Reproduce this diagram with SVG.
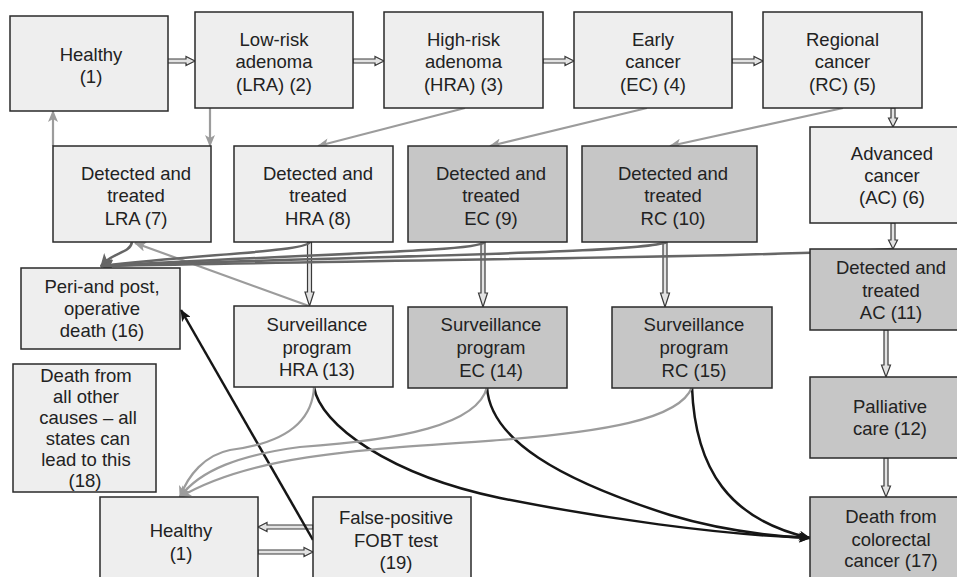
<svg xmlns="http://www.w3.org/2000/svg" width="957" height="577" viewBox="0 0 957 577">
<style>
.box{stroke:#2a2a2a;stroke-width:1.5}
.lt{fill:#eeeeee}
.dk{fill:#c6c6c6}
text{font-family:"Liberation Sans",Arial,sans-serif;font-size:18.5px;fill:#222;text-anchor:middle}
.hollow{fill:#e2e2e2;stroke:#3a3a3a;stroke-width:1.2;stroke-linejoin:miter}
.g{fill:none;stroke:#9c9c9c;stroke-width:2.2}
.d{fill:none;stroke:#666;stroke-width:2.5}
.b{fill:none;stroke:#161616;stroke-width:2.5}
</style>
<defs>
<marker id="mg" viewBox="0 0 12 10" refX="11" refY="5" markerWidth="13" markerHeight="10" markerUnits="userSpaceOnUse" orient="auto"><path d="M0,0 L12,5 L0,10 L3,5 z" fill="#9c9c9c"/></marker>
<marker id="md" viewBox="0 0 12 10" refX="11" refY="5" markerWidth="14" markerHeight="11" markerUnits="userSpaceOnUse" orient="auto"><path d="M0,0 L12,5 L0,10 L3,5 z" fill="#666"/></marker>
<marker id="mb" viewBox="0 0 12 10" refX="11" refY="5" markerWidth="14" markerHeight="10" markerUnits="userSpaceOnUse" orient="auto"><path d="M0,0 L12,5 L0,10 L3,5 z" fill="#161616"/></marker>
</defs>

<g id="connectors">
<!-- hollow progression arrows -->
<path class="hollow" d="M165,59 H186 V56.5 L195,61 L186,65.5 V63 H165 Z"/>
<path class="hollow" d="M353,59 H375 V56.5 L384,61 L375,65.5 V63 H353 Z"/>
<path class="hollow" d="M543,59 H565 V56.5 L574,61 L565,65.5 V63 H543 Z"/>
<path class="hollow" d="M732,59 H754 V56.5 L763,61 L754,65.5 V63 H732 Z"/>
<path class="hollow" d="M891,108 V118 H888.5 L893,127 L897.5,118 H895 V108 Z"/>
<path class="hollow" d="M891,223 V240 H888.5 L893,249 L897.5,240 H895 V223 Z"/>
<path class="hollow" d="M884,330 V365 H881.5 L886,377 L890.5,365 H888 V330 Z"/>
<path class="hollow" d="M884,458 V486 H881.5 L886,497 L890.5,486 H888 V458 Z"/>
<path class="hollow" d="M307.5,242 V292 H305 L309.5,306 L314,292 H311.5 V242 Z"/>
<path class="hollow" d="M481,242 V293 H478.5 L483,307 L487.5,293 H485 V242 Z"/>
<path class="hollow" d="M663,242 V293 H660.5 L665,307 L669.5,293 H667 V242 Z"/>
<path class="hollow" d="M313,525 H267 V522.5 L258,527 L267,531.5 V529 H313 Z"/>
<path class="hollow" d="M258,550 H304 V547.5 L313,552 L304,556.5 V554 H258 Z"/>

<!-- gray detection arrows -->
<path class="g" marker-end="url(#mg)" d="M210,108 V146"/>
<path class="g" marker-end="url(#mg)" d="M53,146 V111"/>
<path class="g" marker-end="url(#mg)" d="M465,108 L318,146"/>
<path class="g" marker-end="url(#mg)" d="M647,108 L490,146"/>
<path class="g" marker-end="url(#mg)" d="M843,108 L670,146"/>
<path class="g" marker-end="url(#mg)" d="M309,306 L135,243"/>

<!-- dark gray to peri-operative death -->
<path class="d" marker-end="url(#md)" d="M132,242 C130,254 112,252 101,266"/>
<path class="d" marker-end="url(#md)" d="M310,242 C305,252 200,254 101,266"/>
<path class="d" marker-end="url(#md)" d="M485,242 C478,252 300,254 101,266"/>
<path class="d" marker-end="url(#md)" d="M667,242 C640,253 400,255 101,266"/>
<path class="d" marker-end="url(#md)" d="M892,249 C780,256 600,257 101,266"/>

<!-- black arrows -->
<path class="b" marker-end="url(#mb)" d="M313,540 L181,310"/>
<path class="b" marker-end="url(#mb)" d="M314,387 C320,425 390,475 500,498 C600,518 720,535 810,538"/>
<path class="b" marker-end="url(#mb)" d="M487,387 C490,440 560,480 670,515 C720,530 770,536 810,538"/>
<path class="b" marker-end="url(#mb)" d="M692,387 C695,470 730,520 810,538"/>

<!-- gray back to healthy -->
<path class="g" marker-end="url(#mg)" d="M314,387 C312,430 270,445 230,450 C205,455 188,475 180,497"/>
<path class="g" marker-end="url(#mg)" d="M487,387 C478,425 400,440 300,447 C240,455 200,470 180,497"/>
<path class="g" marker-end="url(#mg)" d="M692,387 C680,420 600,432 500,440 C350,450 250,456 180,497"/>
</g>

<g id="n1"><rect class="box lt" x="10" y="16" width="158" height="95"/><text x="91" y="61">Healthy</text><text x="91" y="83">(1)</text></g>
<g id="n2"><rect class="box lt" x="195" y="12" width="158" height="96"/><text x="274" y="46">Low-risk</text><text x="274" y="68">adenoma</text><text x="274" y="91">(LRA) (2)</text></g>
<g id="n3"><rect class="box lt" x="384" y="12" width="159" height="96"/><text x="463.5" y="46">High-risk</text><text x="463.5" y="68">adenoma</text><text x="463.5" y="91">(HRA) (3)</text></g>
<g id="n4"><rect class="box lt" x="574" y="12" width="158" height="96"/><text x="653" y="46">Early</text><text x="653" y="68">cancer</text><text x="653" y="91">(EC) (4)</text></g>
<g id="n5"><rect class="box lt" x="763" y="12" width="159" height="96"/><text x="842.5" y="46">Regional</text><text x="842.5" y="68">cancer</text><text x="842.5" y="91">(RC) (5)</text></g>
<g id="n6"><rect class="box lt" x="810" y="127" width="164" height="96"/><text x="892" y="160">Advanced</text><text x="892" y="182">cancer</text><text x="892" y="204">(AC) (6)</text></g>
<g id="n7"><rect class="box lt" x="53" y="146" width="158" height="96"/><text x="136" y="180">Detected and</text><text x="136" y="202">treated</text><text x="136" y="225">LRA (7)</text></g>
<g id="n8"><rect class="box lt" x="234" y="146" width="159" height="96"/><text x="318" y="180">Detected and</text><text x="318" y="202">treated</text><text x="318" y="225">HRA (8)</text></g>
<g id="n9"><rect class="box dk" x="408" y="146" width="159" height="96"/><text x="491" y="180">Detected and</text><text x="491" y="202">treated</text><text x="491" y="225">EC (9)</text></g>
<g id="n10"><rect class="box dk" x="582" y="146" width="175" height="96"/><text x="673" y="180">Detected and</text><text x="673" y="202">treated</text><text x="673" y="225">RC (10)</text></g>
<g id="n11"><rect class="box dk" x="810" y="249" width="164" height="81"/><text x="891" y="274">Detected and</text><text x="891" y="297">treated</text><text x="891" y="319">AC (11)</text></g>
<g id="n12"><rect class="box dk" x="810" y="377" width="164" height="81"/><text x="890" y="413">Palliative</text><text x="890" y="435">care (12)</text></g>
<g id="n13"><rect class="box lt" x="234" y="306" width="159" height="81"/><text x="317" y="331">Surveillance</text><text x="317" y="354">program</text><text x="317" y="376">HRA (13)</text></g>
<g id="n14"><rect class="box dk" x="408" y="307" width="159" height="81"/><text x="491" y="331">Surveillance</text><text x="491" y="354">program</text><text x="491" y="377">EC (14)</text></g>
<g id="n15"><rect class="box dk" x="612" y="307" width="160" height="81"/><text x="694" y="331">Surveillance</text><text x="694" y="354">program</text><text x="694" y="377">RC (15)</text></g>
<g id="n16"><rect class="box lt" x="21" y="268" width="159" height="81"/><text x="102" y="293">Peri-and post,</text><text x="102" y="315">operative</text><text x="102" y="337">death (16)</text></g>
<g id="n17"><rect class="box dk" x="810" y="497" width="164" height="100"/><text x="891" y="523">Death from</text><text x="891" y="546">colorectal</text><text x="891" y="567">cancer (17)</text></g>
<g id="n18"><rect class="box lt" x="13" y="364" width="143" height="128"/><text x="86" y="382">Death from</text><text x="86" y="403">all other</text><text x="88" y="424">causes – all</text><text x="88" y="445">states can</text><text x="86" y="466">lead to this</text><text x="85" y="487">(18)</text></g>
<g id="n1b"><rect class="box lt" x="100" y="497" width="158" height="100"/><text x="181" y="537">Healthy</text><text x="181" y="560">(1)</text></g>
<g id="n19"><rect class="box lt" x="313" y="497" width="158" height="100"/><text x="396" y="524">False-positive</text><text x="396" y="547">FOBT test</text><text x="396" y="569">(19)</text></g>
</svg>
